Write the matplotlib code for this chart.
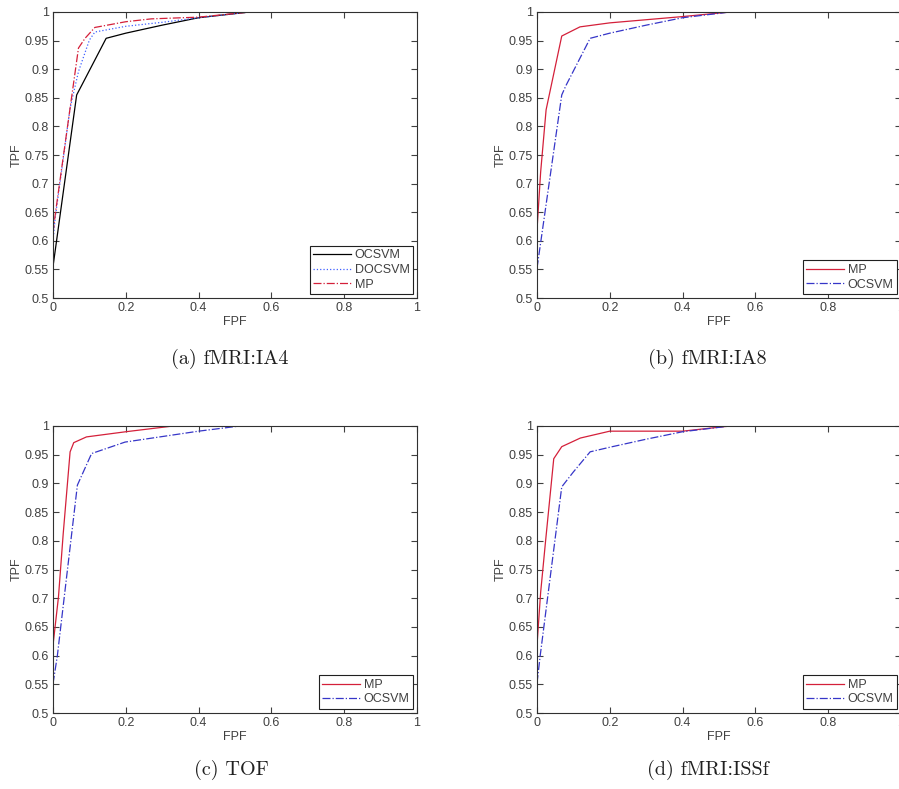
import numpy as np
import matplotlib
matplotlib.use("Agg")
import matplotlib.pyplot as plt

# ROC curves (FPF, TPF)
ia4_ocsvm_fpf = [0.0, 0.01, 0.065, 0.079, 0.146, 0.2, 0.3, 0.4, 0.54]
ia4_ocsvm_tpf = [0.555, 0.601, 0.855, 0.872, 0.954, 0.963, 0.977, 0.99, 1.0]
ia4_docsvm_fpf = [0.0, 0.006, 0.047, 0.07, 0.10, 0.115, 0.2, 0.3, 0.4, 0.54]
ia4_docsvm_tpf = [0.60, 0.64, 0.832, 0.896, 0.951, 0.965, 0.975, 0.982, 0.99, 1.0]
ia4_mp_fpf = [0.0, 0.007, 0.07, 0.088, 0.115, 0.2, 0.27, 0.4, 0.54]
ia4_mp_tpf = [0.614, 0.65, 0.937, 0.954, 0.973, 0.983, 0.988, 0.991, 1.0]

ia8_mp_fpf = [0.0, 0.01, 0.025, 0.068, 0.118, 0.2, 0.4, 0.53]
ia8_mp_tpf = [0.619, 0.72, 0.829, 0.958, 0.974, 0.981, 0.992, 1.0]
ia8_ocsvm_fpf = [0.0, 0.011, 0.068, 0.08, 0.146, 0.2, 0.3, 0.4, 0.53]
ia8_ocsvm_tpf = [0.552, 0.601, 0.855, 0.872, 0.954, 0.963, 0.977, 0.99, 1.0]

tof_mp_fpf = [0.0, 0.015, 0.028, 0.047, 0.057, 0.092, 0.2, 0.33, 0.4]
tof_mp_tpf = [0.618, 0.702, 0.812, 0.955, 0.971, 0.981, 0.99, 1.0, 1.0]
tof_ocsvm_fpf = [0.0, 0.012, 0.067, 0.106, 0.198, 0.4, 0.513]
tof_ocsvm_tpf = [0.551, 0.60, 0.897, 0.952, 0.972, 0.991, 1.0]

issf_mp_fpf = [0.0, 0.01, 0.023, 0.046, 0.068, 0.119, 0.2, 0.4, 0.53]
issf_mp_tpf = [0.618, 0.71, 0.796, 0.943, 0.964, 0.979, 0.991, 0.991, 1.0]
issf_ocsvm_fpf = [0.0, 0.009, 0.068, 0.1, 0.146, 0.2, 0.3, 0.4, 0.53]
issf_ocsvm_tpf = [0.552, 0.601, 0.894, 0.92, 0.955, 0.963, 0.977, 0.99, 1.0]

captions = ["(a) fMRI:IA4", "(b) fMRI:IA8", "(c) TOF", "(d) fMRI:ISSf"]
xticks = [0, 0.2, 0.4, 0.6, 0.8, 1]
yticks = [0.5, 0.55, 0.6, 0.65, 0.7, 0.75, 0.8, 0.85, 0.9, 0.95, 1]

TXT = "#404040"
RED = "#d4203a"
BLUE = "#3636c8"

plt.rcParams["font.family"] = ["Liberation Sans", "DejaVu Sans"]

fig = plt.figure(figsize=(8.99, 7.89), dpi=100)
W, H = 899.0, 789.0

# axes boxes in pixels: left, top, right, bottom
boxes = [(53, 12, 417, 298), (537, 12, 901, 298),
         (53, 426, 417, 713), (537, 426, 901, 713)]
axes = []
for l, t, r, b in boxes:
    ax = fig.add_axes([l / W, 1 - b / H, (r - l) / W, (b - t) / H])
    axes.append(ax)


def style(ax):
    ax.set_xlim(0, 1)
    ax.set_ylim(0.5, 1)
    ax.set_xticks(xticks)
    ax.set_xticklabels([f"{v:g}" for v in xticks])
    ax.set_yticks(yticks)
    ax.set_yticklabels([f"{v:g}" for v in yticks])
    ax.tick_params(direction="in", length=4, width=0.8, top=True, right=True,
                   labelsize=9, colors=TXT, pad=3)
    for s in ax.spines.values():
        s.set_color("#303030")
        s.set_linewidth(0.8)
    ax.set_xlabel("FPF", fontsize=9, color=TXT, labelpad=1)
    ax.set_ylabel("TPF", fontsize=9, color=TXT, labelpad=1)


def legend(ax):
    leg = ax.legend(loc="lower right", fontsize=9, fancybox=False,
                    framealpha=1, edgecolor="#202020", borderaxespad=0.3,
                    handlelength=3.0, handletextpad=0.3, borderpad=0.3,
                    labelspacing=0.2)
    leg.get_frame().set_linewidth(0.8)
    for t in leg.get_texts():
        t.set_color(TXT)


ax = axes[0]
ax.plot(ia4_ocsvm_fpf, ia4_ocsvm_tpf, color="black", lw=0.9, ls="-", label="OCSVM")
ax.plot(ia4_docsvm_fpf, ia4_docsvm_tpf, color="#4060ff", lw=0.9, ls=":", label="DOCSVM")
ax.plot(ia4_mp_fpf, ia4_mp_tpf, color=RED, lw=0.9, ls="-.", label="MP")

ax = axes[1]
ax.plot(ia8_mp_fpf, ia8_mp_tpf, color=RED, lw=0.9, ls="-", label="MP")
ax.plot(ia8_ocsvm_fpf, ia8_ocsvm_tpf, color=BLUE, lw=0.9, ls="-.", label="OCSVM")

ax = axes[2]
ax.plot(tof_mp_fpf, tof_mp_tpf, color=RED, lw=0.9, ls="-", label="MP")
ax.plot(tof_ocsvm_fpf, tof_ocsvm_tpf, color=BLUE, lw=0.9, ls="-.", label="OCSVM")

ax = axes[3]
ax.plot(issf_mp_fpf, issf_mp_tpf, color=RED, lw=0.9, ls="-", label="MP")
ax.plot(issf_ocsvm_fpf, issf_ocsvm_tpf, color=BLUE, lw=0.9, ls="-.", label="OCSVM")

for ax in axes:
    style(ax)
    legend(ax)

# sub-figure captions
cap_pos = [(230, 359), (707, 359), (231, 770), (708, 770)]
for (cx, cy), cap in zip(cap_pos, captions):
    fig.text(cx / W, 1 - cy / H, cap, ha="center", va="center",
             fontsize=14.5, family="cmr10", color="#202020")

fig.savefig("out.png", dpi=100)
